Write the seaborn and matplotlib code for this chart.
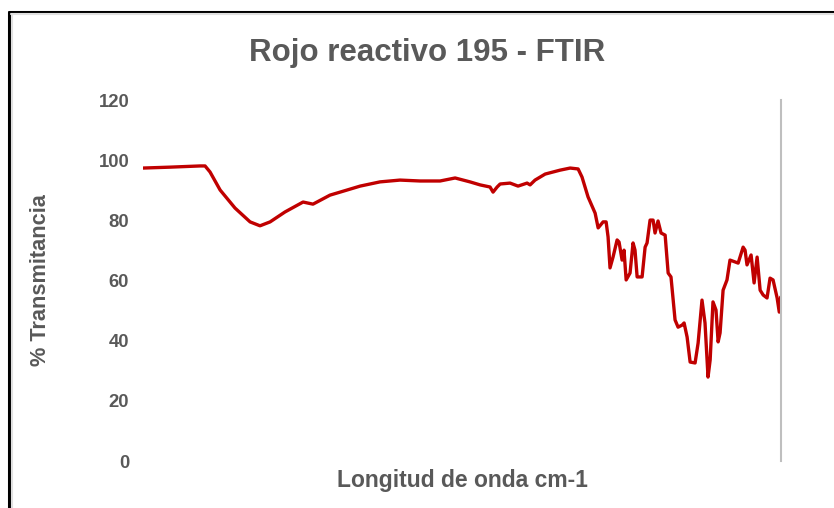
import numpy as np
import pandas as pd
import matplotlib.pyplot as plt
import seaborn as sns
from matplotlib.lines import Line2D

# FTIR spectrum (wavenumber cm-1, % transmittance)
wavenumber = [4000, 3848, 3678, 3650, 3622, 3565, 3481, 3396, 3340, 3283,
              3199, 3097, 3041, 2945, 2888, 2775, 2663, 2550, 2437, 2324,
              2239, 2155, 2098, 2042, 2025, 2002, 1985, 1929, 1884, 1833,
              1816, 1788, 1731, 1647, 1590, 1545, 1523, 1489, 1449, 1432,
              1404, 1387, 1376, 1365, 1348, 1325, 1314, 1297, 1286, 1274,
              1252, 1235, 1224, 1212, 1184, 1167, 1156, 1139, 1122, 1111,
              1094, 1077, 1054, 1037, 1021, 998, 981, 958, 947, 930,
              913, 885, 868, 846, 829, 812, 800, 784, 767, 755,
              744, 727, 705, 688, 660, 642, 614, 603, 592, 569,
              552, 535, 518, 501, 479, 462, 445, 422, 410, 402]
transmitancia = [97.4, 97.7, 98.1, 98.1, 96.1, 90.1, 84.1, 79.5, 78.2, 79.5,
                 82.8, 86.1, 85.4, 88.4, 89.4, 91.4, 92.8, 93.4, 93.1, 93.1,
                 94.1, 92.8, 91.8, 91.1, 89.4, 91.1, 92.1, 92.4, 91.4, 92.4,
                 91.8, 93.4, 95.4, 96.7, 97.4, 97.1, 94.4, 87.8, 82.4, 77.5,
                 79.5, 79.5, 74.5, 64.2, 67.8, 73.5, 72.8, 66.8, 70.1, 60.2,
                 62.5, 72.5, 70.1, 61.2, 61.2, 71.1, 72.5, 80.1, 80.1, 75.8,
                 79.8, 75.8, 75.1, 62.5, 61.2, 46.9, 44.5, 45.2, 45.9, 41.2,
                 32.9, 32.6, 39.2, 53.5, 45.9, 27.9, 33.6, 52.9, 50.2, 39.6,
                 42.6, 56.8, 60.2, 66.8, 66.2, 65.8, 71.1, 70.1, 65.2, 68.5,
                 59.2, 67.8, 56.8, 55.2, 54.2, 60.8, 60.2, 54.2, 49.5, 54.5]
y_ticks = [0, 20, 40, 60, 80, 100, 120]

df = pd.DataFrame({'wn': wavenumber, 'T': transmitancia})

sns.set_style('white')
plt.rcParams['font.family'] = ['Liberation Sans', 'DejaVu Sans']
gray = '#595959'

fig = plt.figure(figsize=(8.34, 5.08), dpi=100)
ax = fig.add_axes([0.1715, 0.0925, 0.765, 0.7105])

sns.lineplot(data=df, x='wn', y='T', ax=ax, color='#C00000', linewidth=2.4,
             sort=False)

ax.set_xlim(4000, 400)
ax.set_ylim(0, 120)
ax.set_yticks(y_ticks)
ax.set_yticklabels([str(v) for v in y_ticks], fontsize=13.3,
                   fontweight='bold', color=gray)
ax.set_xticks([])
ax.tick_params(axis='y', length=0, pad=10)

for side in ['top', 'left', 'bottom']:
    ax.spines[side].set_visible(False)
ax.spines['right'].set_color('#BFBFBF')
ax.spines['right'].set_linewidth(1.5)

ax.set_xlabel('Longitud de onda cm-1', fontsize=16.5, fontweight='bold',
              color=gray, labelpad=6)
ax.set_ylabel('% Transmitancia', fontsize=15.7, fontweight='bold',
              color=gray, labelpad=0)
ax.yaxis.set_label_coords(-0.145, 0.5)
fig.text(0.512, 0.895, 'Rojo reactivo 195 - FTIR', ha='center', va='center',
         fontsize=22.5, fontweight='bold', color=gray)

# outer frame (top and left edges only visible in the crop)
y_top = 1 - 11.5 / 508
x_left = 9 / 834
fig.add_artist(Line2D([x_left, 1], [y_top, y_top], color='black', lw=2.2,
                      transform=fig.transFigure))
fig.add_artist(Line2D([x_left, x_left], [0, y_top], color='black', lw=2.2,
                      transform=fig.transFigure))
fig.add_artist(Line2D([x_left + 2 / 834, 1], [y_top - 2.5 / 508, y_top - 2.5 / 508],
                      color='#E0E0E0', lw=1.5, transform=fig.transFigure))
fig.add_artist(Line2D([x_left + 2.5 / 834, x_left + 2.5 / 834], [0, y_top - 2 / 508],
                      color='#E0E0E0', lw=1.5, transform=fig.transFigure))

fig.savefig('out.png', dpi=100)
